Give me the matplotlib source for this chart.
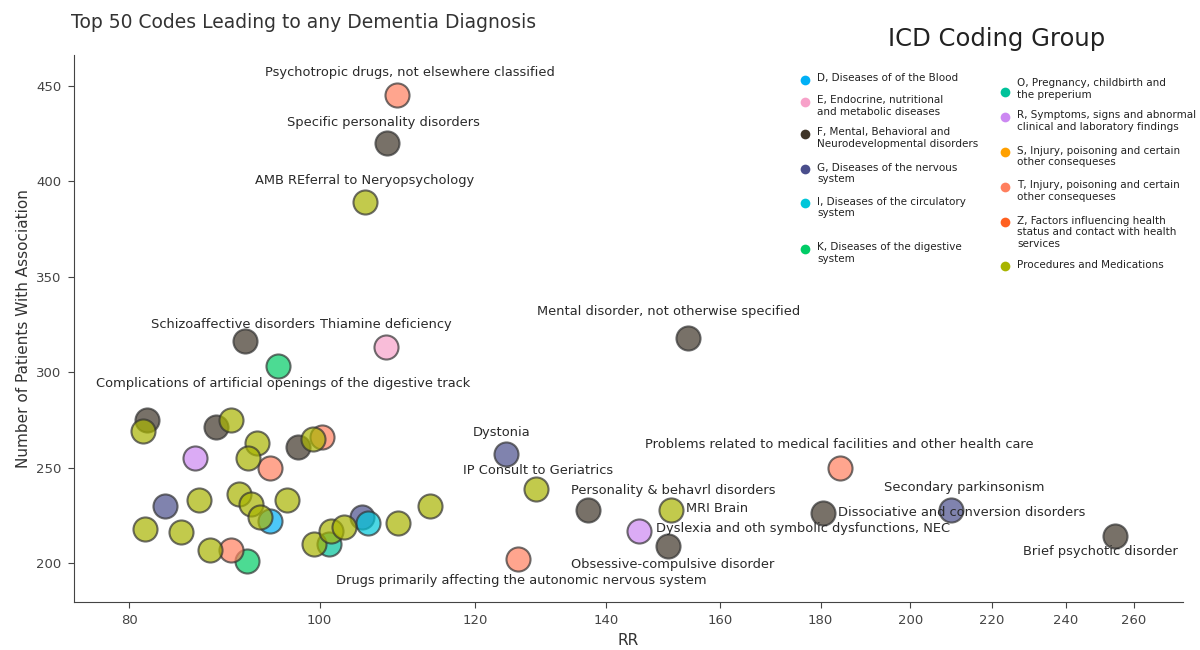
import matplotlib
matplotlib.use('Agg')
import matplotlib.pyplot as plt
from matplotlib.lines import Line2D

# --- data ---
rr = [109.5, 108.2, 105.5, 91.6, 108.1, 95.2, 154.0, 124.4, 128.9, 137.0,
      145.4, 151.0, 150.5, 126.2, 184.1, 209.8, 180.5, 254.3,
      81.7, 81.3, 88.6, 90.1, 86.4, 92.9, 92.0, 94.3, 97.5, 99.2,
      100.3, 83.4, 86.8, 91.0, 92.3, 93.3, 94.4, 96.3, 81.5, 85.0,
      87.9, 90.1, 91.8, 99.3, 101.1, 101.4, 102.9, 105.1, 105.8, 109.6, 113.9]
patients = [445, 420, 389, 316, 313, 303, 318, 257, 239, 228,
            217, 228, 209, 202, 250, 228, 226, 214,
            275, 269, 271, 275, 255, 263, 255, 250, 261, 265,
            266, 230, 233, 236, 231, 224, 222, 233, 218, 216,
            207, 207, 201, 210, 210, 217, 219, 224, 221, 221, 230]
group = ['T', 'F', 'P', 'F', 'E', 'K', 'F', 'G', 'P', 'F',
         'R', 'P', 'F', 'T', 'T', 'G', 'F', 'F',
         'F', 'P', 'F', 'P', 'R', 'P', 'P', 'T', 'F', 'P',
         'T', 'G', 'P', 'P', 'P', 'P', 'D', 'P', 'P', 'P',
         'P', 'T', 'K', 'P', 'O', 'P', 'P', 'G', 'I', 'P', 'P']
labels = ['Psychotropic drugs, not elsewhere classified',
          'Specific personality disorders',
          'AMB REferral to Neryopsychology',
          'Schizoaffective disorders',
          'Thiamine deficiency',
          'Complications of artificial openings of the digestive track',
          'Mental disorder, not otherwise specified',
          'Dystonia',
          'IP Consult to Geriatrics',
          'Personality & behavrl disorders',
          'Dyslexia and oth symbolic dysfunctions, NEC',
          'MRI Brain',
          'Obsessive-compulsive disorder',
          'Drugs primarily affecting the autonomic nervous system',
          'Problems related to medical facilities and other health care',
          'Secondary parkinsonism',
          'Dissociative and conversion disorders',
          'Brief psychotic disorder'] + [''] * 31

group_codes = ['D', 'E', 'F', 'G', 'I', 'K', 'O', 'R', 'S', 'T', 'Z', 'P']
group_names = ['D, Diseases of of the Blood',
               'E, Endocrine, nutritional\nand metabolic diseases',
               'F, Mental, Behavioral and\nNeurodevelopmental disorders',
               'G, Diseases of the nervous\nsystem',
               'I, Diseases of the circulatory\nsystem',
               'K, Diseases of the digestive\nsystem',
               'O, Pregnancy, childbirth and\nthe preperium',
               'R, Symptoms, signs and abnormal\nclinical and laboratory findings',
               'S, Injury, poisoning and certain\nother consequeses',
               'T, Injury, poisoning and certain\nother consequeses',
               'Z, Factors influencing health\nstatus and contact with health\nservices',
               'Procedures and Medications']
group_colors = ['#00B0F6', '#F7A1C9', '#3F3528', '#4A4E8C', '#00C6D9', '#00CC66',
                '#00C29A', '#CC88F2', '#FFA000', '#FF7F5E', '#FF6020', '#A8B400']

# label offsets in pixels (dx, dy down, alignment)
label_pos = {
    'Psychotropic drugs, not elsewhere classified': (13, -23, 'center'),
    'Specific personality disorders': (-3, -20, 'center'),
    'AMB REferral to Neryopsychology': (-1, -22, 'center'),
    'Schizoaffective disorders': (-12, -17, 'center'),
    'Thiamine deficiency': (0, -23, 'center'),
    'Complications of artificial openings of the digestive track': (6, 17, 'center'),
    'Mental disorder, not otherwise specified': (-19, -26, 'center'),
    'Dystonia': (-4, -22, 'center'),
    'IP Consult to Geriatrics': (2, -18, 'center'),
    'Personality & behavrl disorders': (85, -19, 'center'),
    'Dyslexia and oth symbolic dysfunctions, NEC': (17, -2, 'left'),
    'MRI Brain': (15, -1, 'left'),
    'Obsessive-compulsive disorder': (5, 19, 'center'),
    'Drugs primarily affecting the autonomic nervous system': (3, 21, 'center'),
    'Problems related to medical facilities and other health care': (0, -23, 'center'),
    'Secondary parkinsonism': (13, -22, 'center'),
    'Dissociative and conversion disorders': (15, -1, 'left'),
    'Brief psychotic disorder': (-15, 15, 'center'),
}

W, H = 1200, 650
fig = plt.figure(figsize=(12, 6.5), dpi=100)
ax = fig.add_axes([74 / W, 1 - 602 / H, (1183 - 74) / W, (602 - 55) / H])

for code, color in zip(group_codes, group_colors):
    xs = [x for x, g in zip(rr, group) if g == code]
    ys = [y for y, g in zip(patients, group) if g == code]
    if xs:
        ax.scatter(xs, ys, s=300, color=color, alpha=0.7, edgecolors='#333333',
                   linewidths=1.5, zorder=3)

for x, y, lab in zip(rr, patients, labels):
    if not lab:
        continue
    dx, dy, ha = label_pos[lab]
    ax.annotate(lab, (x, y), xytext=(dx * 0.72, -dy * 0.72), textcoords='offset points',
                ha=ha, va='center', fontsize=9.4, color='#2a2a2a', zorder=4)

ax.set_xscale('log')
ax.set_xlim(74.97, 275.4)
ax.set_ylim(179.6, 466)
xt = [80, 100, 120, 140, 160, 180, 200, 220, 240, 260]
ax.set_xticks(xt)
ax.set_xticklabels([str(v) for v in xt])
ax.minorticks_off()
ax.set_yticks([200, 250, 300, 350, 400, 450])
for s in ['top', 'right']:
    ax.spines[s].set_visible(False)
for s in ['left', 'bottom']:
    ax.spines[s].set_color('#444444')
ax.tick_params(colors='#444444', labelsize=9.5, length=4, pad=5)
ax.set_xlabel('RR', fontsize=11, color='#333333', labelpad=4)
ax.set_ylabel('Number of Patients With Association', fontsize=11, color='#333333', labelpad=4)

fig.text(71 / W, 1 - 23 / H, 'Top 50 Codes Leading to any Dementia Diagnosis',
         fontsize=13.5, color='#333333', va='center', ha='left')

# legend drawn by hand
fig.text(997 / W, 1 - 39 / H, 'ICD Coding Group', fontsize=17.5, color='#222222',
         ha='center', va='center')
leg_x = [805] * 6 + [1005] * 6
leg_y = [80, 102, 134, 169, 203, 249, 92, 117, 152, 187, 222, 266]
leg_text_top = [80, 102, 134, 169, 203, 249, 85, 117, 152, 187, 222, 266]
for name, color, mx, my, ty in zip(group_names, group_colors, leg_x, leg_y, leg_text_top):
    fig.add_artist(Line2D([mx / W], [1 - my / H], marker='o', markersize=7,
                          color=color, markeredgewidth=0, transform=fig.transFigure))
    fig.text((mx + 12) / W, 1 - (ty - 6.5) / H, name, fontsize=7.5, color='#222222',
             ha='left', va='top', linespacing=1.2)

fig.savefig('out.png', dpi=100)
